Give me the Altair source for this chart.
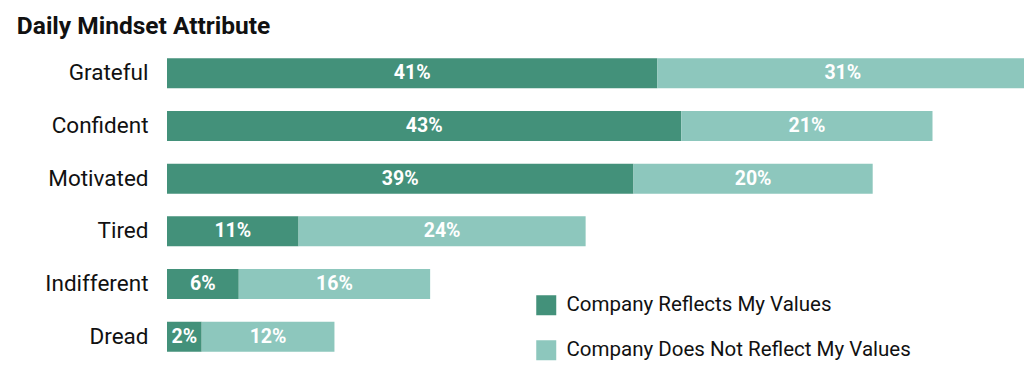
import altair as alt
import pandas as pd

categories = ["Grateful", "Confident", "Motivated", "Tired", "Indifferent", "Dread"]
# bar lengths as drawn (percent)
reflects = [41, 43, 39, 11, 6, 2.9]
not_reflects = [31, 21, 20, 24, 16, 11.1]
# printed labels
reflects_labels = ["41%", "43%", "39%", "11%", "6%", "2%"]
not_reflects_labels = ["31%", "21%", "20%", "24%", "16%", "12%"]
series = ["Company Reflects My Values", "Company Does Not Reflect My Values"]
colors = ["#43917a", "#8dc7bd"]

rows = []
for c, a, b, la, lb in zip(categories, reflects, not_reflects, reflects_labels, not_reflects_labels):
    rows.append({"cat": c, "series": series[0], "order": 0, "value": a, "label": la})
    rows.append({"cat": c, "series": series[1], "order": 1, "value": b, "label": lb})
df = pd.DataFrame(rows)

base = alt.Chart(df).transform_stack(
    stack="value", groupby=["cat"], as_=["x0", "x1"],
    sort=[alt.SortField("order", order="ascending")]
).transform_calculate(mid="(datum.x0 + datum.x1) / 2")

xscale = alt.Scale(domain=[0, 71.65], clamp=True, nice=False, zero=True)
yenc = alt.Y("cat:N", sort=categories, title=None,
             scale=alt.Scale(paddingInner=0.43, paddingOuter=0.215),
             axis=alt.Axis(labelFont="Roboto", labelFontSize=22.5, labelColor="#111",
                           labelPadding=19, ticks=False, domain=False, labelLimit=300))

bars = base.mark_bar(cornerRadius=0).encode(
    x=alt.X("x0:Q", scale=xscale, axis=None),
    x2="x1:Q",
    y=yenc,
    color=alt.Color("series:N", sort=series,
                    scale=alt.Scale(domain=series, range=colors),
                    legend=alt.Legend(title=None, orient="none", legendX=369, legendY=248,
                                      symbolType="square", symbolSize=400,
                                      symbolStrokeWidth=0, symbolOpacity=1,
                                      labelFont="Roboto", labelFontSize=20.5,
                                      labelColor="#111", rowPadding=24,
                                      labelOffset=10, labelLimit=500)),
)

labels = base.mark_text(font="Roboto", fontSize=19.5, fontWeight="bold", color="white").encode(
    x=alt.X("mid:Q", scale=xscale, axis=None),
    y=alt.Y("cat:N", sort=categories),
    text=alt.Text("label:N"),
)

chart = alt.layer(bars, labels).properties(
    width=857, height=316,
    title=alt.TitleParams("Daily Mindset Attribute", anchor="start", font="Roboto",
                          fontSize=24.5, fontWeight="bold", color="#111", dx=-28,
                          offset=8, frame="bounds"),
    autosize=alt.AutoSizeParams(type="none"),
    padding={"left": 167, "top": 47, "right": 0, "bottom": 14},
).configure_view(stroke=None)

chart.save("out.html", embed_options={"renderer": "svg", "actions": False})
